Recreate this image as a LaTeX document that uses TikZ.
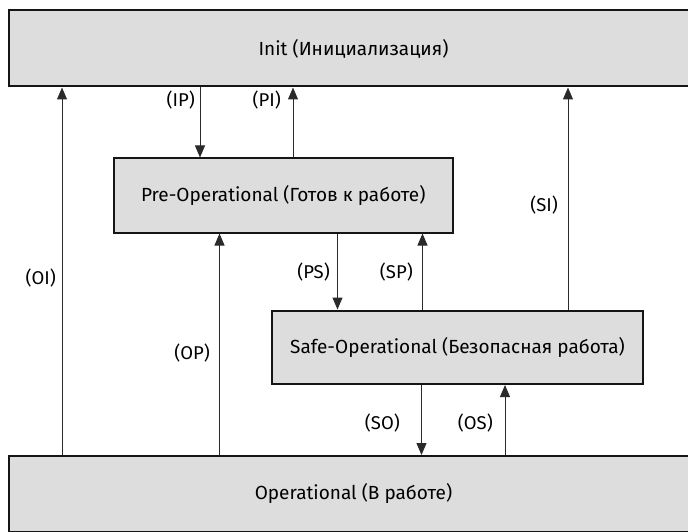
\documentclass[tikz,border=0pt]{standalone}
\usepackage{fontspec}
\setmainfont{Fira Sans}
\usetikzlibrary{arrows.meta}
\definecolor{boxfill}{HTML}{DDDDDD}
\definecolor{boxline}{HTML}{151515}
\definecolor{connline}{HTML}{2A2A2A}
\begin{document}
\begin{tikzpicture}[x=1pt,y=-1pt,
  statebox/.style={draw=boxline, line width=2pt, fill=boxfill, inner sep=0pt,
    anchor=north west, font=\fontsize{19}{22}\selectfont},
  conn/.style={draw=connline, line width=1pt, -{Triangle[length=12pt,width=10pt]}},
  lbl/.style={anchor=east, inner sep=0pt, font=\fontsize{18.5}{22}\selectfont}]
\useasboundingbox (0,0) rectangle (688,532);

% states
\node[statebox, minimum width=690pt, minimum height=76pt] (init) at (7.5,9.5)
  {Init (Инициализация)};
\node[statebox, minimum width=339.5pt, minimum height=74pt] (preop) at (112.5,157.5)
  {Pre-Operational (Готов к работе)};
\node[statebox, minimum width=371pt, minimum height=73.5pt] (safeop) at (271,309.5)
  {Safe-Operational (Безопасная работа)};
\node[statebox, minimum width=690pt, minimum height=75.5pt] (op) at (7.5,455)
  {Operational (В работе)};

% x positions of the transition lines
\coordinate (xOI) at (62,0);
\coordinate (xIP) at (200,0);
\coordinate (xPI) at (293,0);
\coordinate (xOP) at (219.5,0);
\coordinate (xPS) at (337.5,0);
\coordinate (xSP) at (422.5,0);
\coordinate (xSI) at (568,0);
\coordinate (xSO) at (421.5,0);
\coordinate (xOS) at (505,0);

% transitions
\draw[conn] (op.north -| xOI) -- (init.south -| xOI);
\draw[conn] (init.south -| xIP) -- (preop.north -| xIP);
\draw[conn] (preop.north -| xPI) -- (init.south -| xPI);
\draw[conn] (op.north -| xOP) -- (preop.south -| xOP);
\draw[conn] (preop.south -| xPS) -- (safeop.north -| xPS);
\draw[conn] (safeop.north -| xSP) -- (preop.south -| xSP);
\draw[conn] (safeop.north -| xSI) -- (init.south -| xSI);
\draw[conn] (safeop.south -| xSO) -- (op.north -| xSO);
\draw[conn] (op.north -| xOS) -- (safeop.south -| xOS);

% transition labels
\node[lbl] (lOI) at (56,278) {(OI)};
\node[lbl] (lIP) at (195,100) {(IP)};
\node[lbl] (lPI) at (281,100) {(PI)};
\node[lbl] (lOP) at (210,353) {(OP)};
\node[lbl] (lPS) at (330,272) {(PS)};
\node[lbl] (lSP) at (413,272) {(SP)};
\node[lbl] (lSI) at (558,205) {(SI)};
\node[lbl] (lSO) at (400,423) {(SO)};
\node[lbl] (lOS) at (493,423) {(OS)};
\end{tikzpicture}
\end{document}
